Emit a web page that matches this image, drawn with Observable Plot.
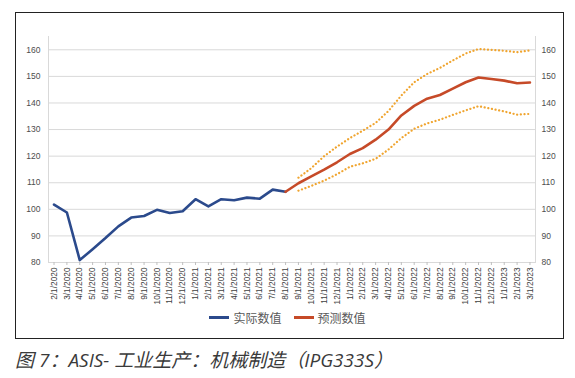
<!DOCTYPE html>
<html>
<head>
<meta charset="utf-8">
<script src="https://cdn.jsdelivr.net/npm/d3@7"></script>
<script src="https://cdn.jsdelivr.net/npm/@observablehq/plot@0.6"></script>
<style>
  body { margin: 0; background: #fff; }
  #wrap { position: relative; width: 575px; height: 378px; overflow: hidden; }
  #chart { position: absolute; left: 0; top: 0; }
  #frame { position: absolute; left: 15px; top: 12px; width: 549px; height: 327px; box-sizing: border-box; border: 1.5px solid #222; pointer-events: none; }
  #legend { position: absolute; top: 309px; left: 0; width: 575px; display: flex; justify-content: center; gap: 12px; font-family: "Noto Sans CJK SC", sans-serif; font-size: 12px; color: #595959; }
  #legend .item { display: flex; align-items: center; gap: 4px; }
  #legend .sw { display: inline-block; width: 20px; height: 2.6px; }
  #caption { position: absolute; left: 15px; top: 345px; font-family: "Open Sans", "Noto Sans CJK SC", sans-serif; font-style: italic; font-size: 19px; color: #3a3a3a; white-space: nowrap; }
</style>
</head>
<body>
<div id="wrap">
  <div id="chart"></div>
  <div id="frame"></div>
  <div id="legend"></div>
  <div id="caption">图 7：ASIS- 工业生产：机械制造（IPG333S）</div>
</div>
<script>
// Tick labels (categories)
const months = [
  "2/1/2020","3/1/2020","4/1/2020","5/1/2020","6/1/2020","7/1/2020","8/1/2020","9/1/2020",
  "10/1/2020","11/1/2020","12/1/2020","1/1/2021","2/1/2021","3/1/2021","4/1/2021","5/1/2021",
  "6/1/2021","7/1/2021","8/1/2021","9/1/2021","10/1/2021","11/1/2021","12/1/2021","1/1/2022",
  "2/1/2022","3/1/2022","4/1/2022","5/1/2022","6/1/2022","7/1/2022","8/1/2022","9/1/2022",
  "10/1/2022","11/1/2022","12/1/2022","1/1/2023","2/1/2023","3/1/2023"
];
// 实际数值: 2/1/2020 .. 8/1/2021
const actual = [101.8, 98.8, 80.9, 85.0, 89.2, 93.6, 96.9, 97.5, 99.8, 98.6, 99.3, 103.8, 101.1, 103.8, 103.4, 104.4, 104.0, 107.4, 106.6];
// 预测数值: 8/1/2021 .. 3/1/2023
const forecast = [106.6, 109.8, 112.4, 114.9, 117.7, 120.8, 123.0, 126.2, 130.0, 135.3, 138.9, 141.6, 143.0, 145.4, 147.8, 149.6, 149.0, 148.4, 147.4, 147.7];
// Upper / lower bounds: 9/1/2021 .. 3/1/2023
const upper = [111.9, 115.5, 120.0, 123.6, 126.8, 129.6, 132.5, 137.0, 142.8, 147.8, 150.9, 153.2, 156.0, 158.6, 160.3, 160.0, 159.6, 159.1, 159.8];
const lower = [107.0, 108.8, 110.8, 113.2, 116.0, 117.3, 119.0, 122.5, 126.8, 130.3, 132.3, 133.7, 135.5, 137.2, 138.8, 137.8, 136.8, 135.6, 135.9];
const yTicks = [80, 90, 100, 110, 120, 130, 140, 150, 160];

const actualStart = 0, forecastStart = 18, boundStart = 19;
const actualData = actual.map((v, i) => ({month: months[actualStart + i], value: v}));
const forecastData = forecast.map((v, i) => ({month: months[forecastStart + i], value: v}));
const upperData = upper.map((v, i) => ({month: months[boundStart + i], value: v}));
const lowerData = lower.map((v, i) => ({month: months[boundStart + i], value: v}));

const colors = {actual: "#2b4a8c", forecast: "#c64a28", bound: "#f0a530"};
const dotted = {stroke: colors.bound, strokeWidth: 2.2, strokeDasharray: "0.1 3.6", strokeLinecap: "round"};

const chart = Plot.plot({
  width: 575,
  height: 340,
  marginLeft: 48,
  marginRight: 40,
  marginTop: 36,
  marginBottom: 78,
  style: {fontFamily: "'Liberation Sans', Arial, sans-serif", background: "transparent"},
  x: {type: "point", domain: months, padding: 0.43},
  y: {domain: [80, 165]},
  marks: [
    Plot.gridY(yTicks, {stroke: "#d9d9d9", strokeOpacity: 1, strokeWidth: 1}),
    Plot.frame({anchor: "left", stroke: "#d9d9d9"}),
    Plot.frame({anchor: "right", stroke: "#d9d9d9"}),
    Plot.axisY(yTicks, {anchor: "left", tickSize: 0, tickPadding: 8, fontSize: 8.5, fill: "#4d4d4d", label: null}),
    Plot.axisY(yTicks, {anchor: "right", tickSize: 0, tickPadding: 6, fontSize: 8.5, fill: "#4d4d4d", label: null}),
    Plot.axisX({tickRotate: -90, tickSize: 3, tickPadding: 2, fontSize: 8.3, fill: "#404040", stroke: "#bfbfbf", label: null}),
    Plot.line(upperData, {x: "month", y: "value", ...dotted}),
    Plot.line(lowerData, {x: "month", y: "value", ...dotted}),
    Plot.line(actualData, {x: "month", y: "value", stroke: colors.actual, strokeWidth: 2.6}),
    Plot.line(forecastData, {x: "month", y: "value", stroke: colors.forecast, strokeWidth: 2.6})
  ]
});
document.getElementById("chart").append(chart);

const legend = document.getElementById("legend");
[["实际数值", colors.actual], ["预测数值", colors.forecast]].forEach(([name, c]) => {
  const it = document.createElement("span");
  it.className = "item";
  it.innerHTML = `<span class="sw" style="background:${c}"></span><span>${name}</span>`;
  legend.append(it);
});
</script>
</body>
</html>
